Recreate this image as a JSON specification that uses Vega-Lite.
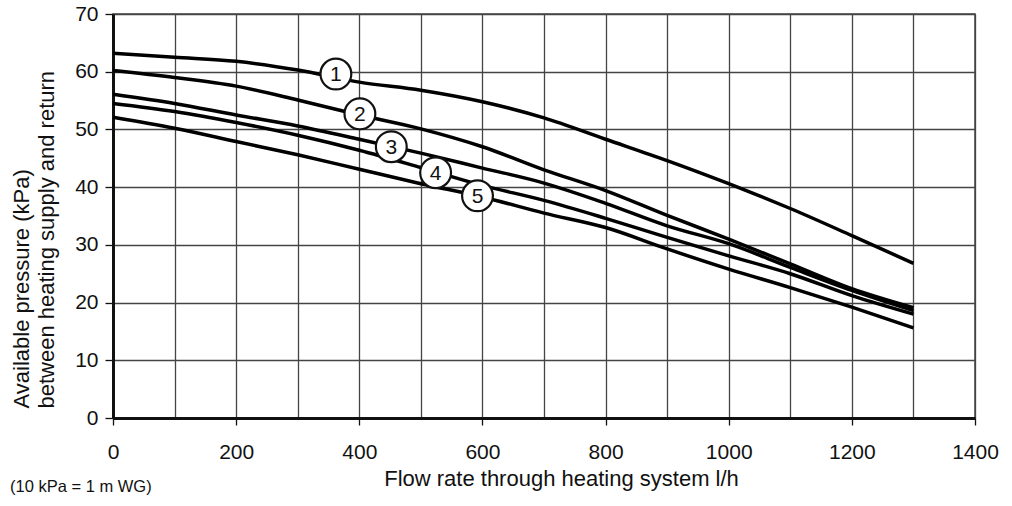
{
  "$schema": "https://vega.github.io/schema/vega-lite/v6.json",
  "width": 862,
  "height": 404,
  "autosize": "none",
  "padding": {"left": 113, "top": 14, "right": 37, "bottom": 88},
  "background": "white",
  "config": {
    "font": "Liberation Sans",
    "view": {"stroke": "#444", "strokeWidth": 1.5}
  },
  "title": {
    "text": "(10 kPa = 1 m WG)",
    "orient": "bottom",
    "anchor": "start",
    "frame": "bounds",
    "fontSize": 16.5,
    "fontWeight": "normal",
    "font": "Liberation Sans",
    "color": "#111",
    "offset": -10
  },
  "datasets": {
    "curves": [
      {"curve": "1", "flow": 0, "pressure": 63.2},
      {"curve": "1", "flow": 100, "pressure": 62.5},
      {"curve": "1", "flow": 200, "pressure": 61.8},
      {"curve": "1", "flow": 300, "pressure": 60.3},
      {"curve": "1", "flow": 400, "pressure": 58.2},
      {"curve": "1", "flow": 500, "pressure": 56.8},
      {"curve": "1", "flow": 600, "pressure": 54.8},
      {"curve": "1", "flow": 700, "pressure": 52.0},
      {"curve": "1", "flow": 800, "pressure": 48.3},
      {"curve": "1", "flow": 900, "pressure": 44.6},
      {"curve": "1", "flow": 1000, "pressure": 40.6},
      {"curve": "1", "flow": 1050, "pressure": 38.5},
      {"curve": "1", "flow": 1100, "pressure": 36.3},
      {"curve": "1", "flow": 1200, "pressure": 31.6},
      {"curve": "1", "flow": 1300, "pressure": 26.8},
      {"curve": "2", "flow": 0, "pressure": 60.2},
      {"curve": "2", "flow": 100, "pressure": 59.0},
      {"curve": "2", "flow": 200, "pressure": 57.5},
      {"curve": "2", "flow": 300, "pressure": 55.1},
      {"curve": "2", "flow": 400, "pressure": 52.5},
      {"curve": "2", "flow": 500, "pressure": 50.1},
      {"curve": "2", "flow": 600, "pressure": 47.0},
      {"curve": "2", "flow": 700, "pressure": 43.0},
      {"curve": "2", "flow": 800, "pressure": 39.4},
      {"curve": "2", "flow": 900, "pressure": 35.1},
      {"curve": "2", "flow": 1000, "pressure": 31.0},
      {"curve": "2", "flow": 1100, "pressure": 26.7},
      {"curve": "2", "flow": 1200, "pressure": 22.4},
      {"curve": "2", "flow": 1300, "pressure": 19.1},
      {"curve": "3", "flow": 0, "pressure": 56.1},
      {"curve": "3", "flow": 100, "pressure": 54.5},
      {"curve": "3", "flow": 200, "pressure": 52.5},
      {"curve": "3", "flow": 300, "pressure": 50.6},
      {"curve": "3", "flow": 400, "pressure": 48.3},
      {"curve": "3", "flow": 500, "pressure": 45.9},
      {"curve": "3", "flow": 600, "pressure": 43.3},
      {"curve": "3", "flow": 700, "pressure": 40.7},
      {"curve": "3", "flow": 800, "pressure": 37.2},
      {"curve": "3", "flow": 900, "pressure": 33.3},
      {"curve": "3", "flow": 1000, "pressure": 30.2},
      {"curve": "3", "flow": 1100, "pressure": 26.1},
      {"curve": "3", "flow": 1200, "pressure": 22.1},
      {"curve": "3", "flow": 1300, "pressure": 18.6},
      {"curve": "4", "flow": 0, "pressure": 54.5},
      {"curve": "4", "flow": 100, "pressure": 53.1},
      {"curve": "4", "flow": 200, "pressure": 51.2},
      {"curve": "4", "flow": 300, "pressure": 49.0},
      {"curve": "4", "flow": 400, "pressure": 46.4},
      {"curve": "4", "flow": 500, "pressure": 43.4},
      {"curve": "4", "flow": 600, "pressure": 40.3},
      {"curve": "4", "flow": 700, "pressure": 37.7},
      {"curve": "4", "flow": 800, "pressure": 34.6},
      {"curve": "4", "flow": 900, "pressure": 31.3},
      {"curve": "4", "flow": 1000, "pressure": 28.1},
      {"curve": "4", "flow": 1100, "pressure": 25.0},
      {"curve": "4", "flow": 1200, "pressure": 21.2},
      {"curve": "4", "flow": 1300, "pressure": 18.0},
      {"curve": "5", "flow": 0, "pressure": 52.1},
      {"curve": "5", "flow": 100, "pressure": 50.2},
      {"curve": "5", "flow": 200, "pressure": 47.9},
      {"curve": "5", "flow": 300, "pressure": 45.6},
      {"curve": "5", "flow": 400, "pressure": 43.1},
      {"curve": "5", "flow": 500, "pressure": 40.6},
      {"curve": "5", "flow": 600, "pressure": 38.3},
      {"curve": "5", "flow": 700, "pressure": 35.5},
      {"curve": "5", "flow": 800, "pressure": 33.0},
      {"curve": "5", "flow": 900, "pressure": 29.3},
      {"curve": "5", "flow": 1000, "pressure": 25.8},
      {"curve": "5", "flow": 1100, "pressure": 22.6},
      {"curve": "5", "flow": 1200, "pressure": 19.2},
      {"curve": "5", "flow": 1300, "pressure": 15.6}
    ],
    "labels": [
      {"curve": "1", "flow": 362, "pressure": 59.6},
      {"curve": "2", "flow": 401, "pressure": 52.7},
      {"curve": "3", "flow": 452, "pressure": 47.0},
      {"curve": "4", "flow": 524, "pressure": 42.5},
      {"curve": "5", "flow": 592, "pressure": 38.5}
    ]
  },
  "layer": [
    {
      "data": {"name": "curves"},
      "mark": {"type": "line", "color": "black", "strokeWidth": 3.5, "interpolate": "monotone"},
      "encoding": {
        "x": {
          "field": "flow",
          "type": "quantitative",
          "scale": {"domain": [0, 1400], "nice": false},
          "axis": {
            "values": [0, 100, 200, 300, 400, 500, 600, 700, 800, 900, 1000, 1100, 1200, 1300, 1400],
            "labelExpr": "datum.value % 200 === 0 ? format(datum.value, 'd') : ''",
            "grid": true,
            "gridColor": "#444",
            "gridWidth": 1.3,
            "gridOpacity": 1,
            "domainColor": "#111",
            "domainWidth": 3,
            "tickColor": "#111",
            "tickSize": 7,
            "tickWidth": 1.3,
            "tickOpacity": {"condition": {"test": "datum.value % 200 === 0", "value": 1}, "value": 0},
            "labelFont": "Liberation Sans",
            "labelFontSize": 21,
            "labelColor": "#111",
            "labelPadding": 16,
            "labelFlush": false,
            "labelOverlap": false,
            "title": "Flow rate through heating system l/h",
            "titleFont": "Liberation Sans",
            "titleFontSize": 22,
            "titleFontWeight": "normal",
            "titleColor": "#111",
            "titlePadding": 6,
            "titleX": 448
          }
        },
        "y": {
          "field": "pressure",
          "type": "quantitative",
          "scale": {"domain": [0, 70], "nice": false},
          "axis": {
            "values": [0, 10, 20, 30, 40, 50, 60, 70],
            "grid": true,
            "gridColor": "#444",
            "gridWidth": 1.3,
            "gridOpacity": 1,
            "domainColor": "#111",
            "domainWidth": 3,
            "tickColor": "#111",
            "tickSize": 8,
            "tickWidth": 1.3,
            "labelFont": "Liberation Sans",
            "labelFontSize": 21,
            "labelColor": "#111",
            "labelPadding": 7,
            "title": ["Available pressure (kPa)", "between heating supply and return"],
            "titleFont": "Liberation Sans",
            "titleFontSize": 22,
            "titleFontWeight": "normal",
            "titleColor": "#111",
            "titleLineHeight": 25,
            "titleAngle": -90,
            "titleAlign": "left",
            "titleBaseline": "top",
            "titleX": -102,
            "titleY": 394
          }
        },
        "detail": {"field": "curve", "type": "nominal"}
      }
    },
    {
      "data": {"name": "labels"},
      "mark": {"type": "point", "shape": "circle", "filled": true, "fill": "white", "stroke": "#111", "strokeWidth": 2.2, "size": 950, "opacity": 1},
      "encoding": {
        "x": {"field": "flow", "type": "quantitative"},
        "y": {"field": "pressure", "type": "quantitative"}
      }
    },
    {
      "data": {"name": "labels"},
      "mark": {"type": "text", "font": "Liberation Sans", "fontSize": 21, "color": "#111", "align": "center", "baseline": "middle", "dy": 1},
      "encoding": {
        "x": {"field": "flow", "type": "quantitative"},
        "y": {"field": "pressure", "type": "quantitative"},
        "text": {"field": "curve", "type": "nominal"}
      }
    }
  ]
}
